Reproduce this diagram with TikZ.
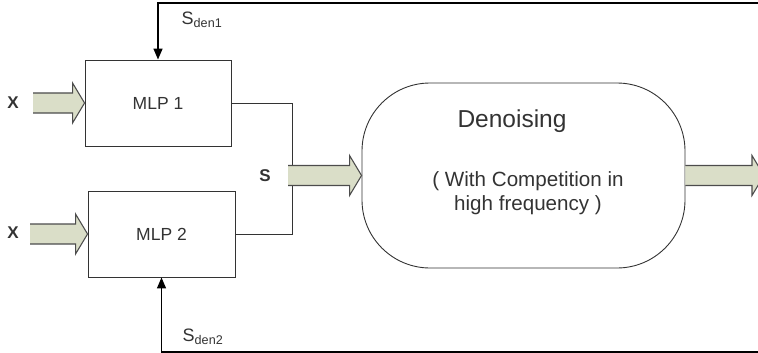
\documentclass[tikz,border=0pt]{standalone}
\usepackage{fontspec}
\setmainfont{Liberation Sans}
\usetikzlibrary{arrows.meta,positioning,calc}
\definecolor{arrowfill}{RGB}{218,222,200}
\definecolor{inkgray}{RGB}{51,51,51}

% wide hollow arrow from #1 to the tip #2 (horizontal)
\newcommand{\widearrow}[2]{%
  \path[fatarrow] let \p1=(#1), \p2=(#2) in
    (\x1,\y2+10pt) -- (\x2-12pt,\y2+10pt) -- (\x2-12pt,\y2+20pt) -- (\x2,\y2)
    -- (\x2-12pt,\y2-20pt) -- (\x2-12pt,\y2-10pt) -- (\x1,\y2-10pt);
}

\begin{document}
\begin{tikzpicture}[
    x=1pt, y=-1pt,
    every node/.style={text=inkgray},
    mlpbox/.style={rectangle, draw=inkgray, line width=0.9pt, minimum width=146pt, minimum height=86pt, font=\fontsize{17.5}{20}\selectfont},
    denoise/.style={rectangle, draw=inkgray, line width=0.9pt, rounded corners=68pt, minimum width=323pt, minimum height=185pt},
    fatarrow/.style={fill=arrowfill, draw=black!70, line width=1.1pt, line join=miter},
    wire/.style={draw=inkgray, line width=0.9pt},
    feedback/.style={draw=black, line width=1.4pt, -{Triangle[length=11pt, width=9pt]}},
    sym/.style={font=\fontsize{17}{19}\selectfont\bfseries},
    sig/.style={font=\fontsize{18}{20}\selectfont}
]
    \useasboundingbox (0,0) rectangle (758,353);

    % MLP blocks
    \node[mlpbox] (mlp1) at (158,103) {MLP 1};
    \node[mlpbox, minimum width=147pt] (mlp2) at (161.5,234) {MLP 2};

    % Denoising block
    \node[denoise] (den) at (523.5,175.5) {};
    \node[font=\fontsize{24.5}{27}\selectfont] (dentitle) at (512,121) {Denoising};
    \node[align=center, font=\fontsize{20.6}{24}\selectfont] (dennote) at (528,193)
        {( With Competition in\\high frequency )};

    % Inputs
    \node[sym] (x1) at (13,103) {X};
    \node[sym] (x2) at (13,233) {X};
    \coordinate (x1in) at (33,103);
    \coordinate (x2in) at (30,233);
    \widearrow{x1in}{mlp1.west}
    \widearrow{x2in}{mlp2.west}

    % Merging the outputs into S
    \coordinate (jtop) at (292,165);
    \coordinate (jbot) at (292,185);
    \coordinate (sin) at (288,175.5);
    \draw[wire] (mlp1.east) -| (jtop);
    \draw[wire] (mlp2.east) -| (jbot);
    \node[sym] (s) at (265,176) {S};
    \widearrow{sin}{den.west}

    % Output
    \coordinate (out) at (764,175.5);
    \widearrow{den.east}{out}

    % Feedback lines
    \coordinate (fb1) at (760,3);
    \coordinate (fb2) at (760,352);
    \draw[feedback] (fb1) -| (mlp1.north);
    \draw[feedback] (fb2) -| (mlp2.south);
    \node[sig] (sden1) at (202,20) {S\textsubscript{den1}};
    \node[sig] (sden2) at (203,337) {S\textsubscript{den2}};
\end{tikzpicture}
\end{document}
